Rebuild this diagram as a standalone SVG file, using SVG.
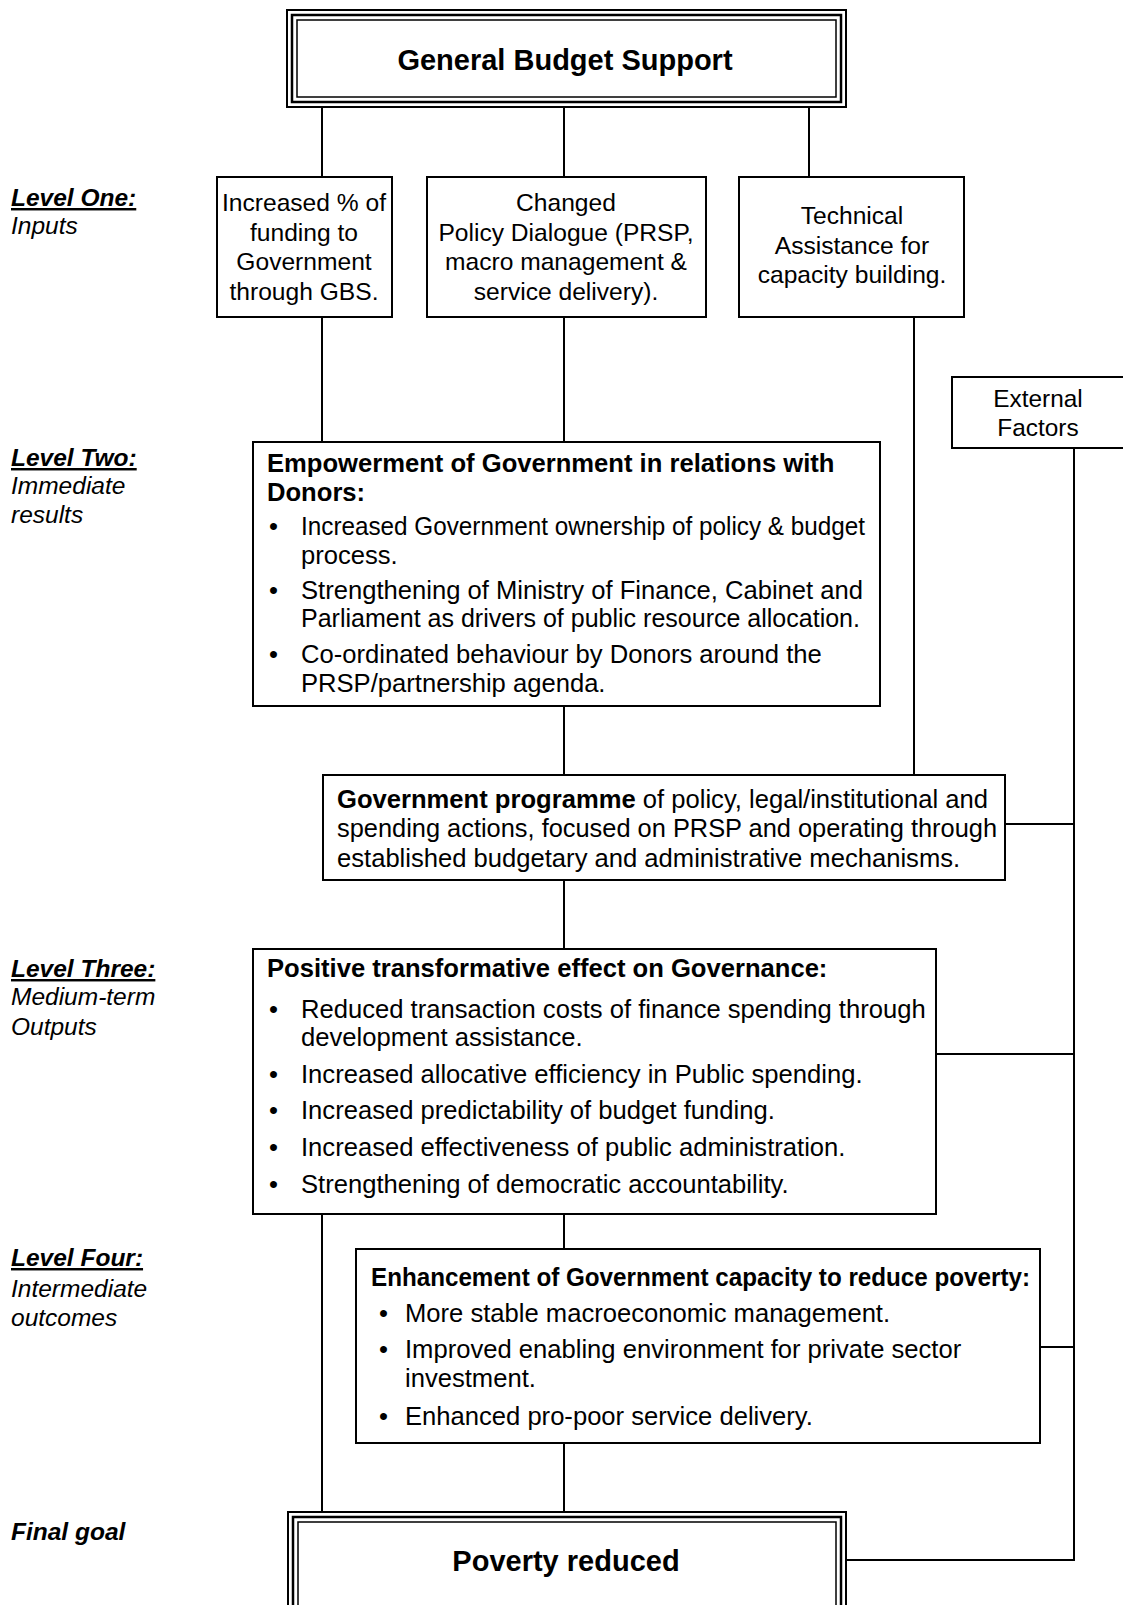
<svg xmlns="http://www.w3.org/2000/svg" width="1123" height="1605" viewBox="0 0 1123 1605">
<style>
text{font-family:"Liberation Sans",Arial,sans-serif;fill:#000}
.b{fill:#fff;stroke:#000;stroke-width:2}
.t{font-size:25.6px}
.s{font-size:24.6px}
.c{text-anchor:middle}
.bd{font-weight:bold}
.lvl{font-size:24.5px;font-style:italic}
.ul{text-decoration:underline;font-weight:bold}
.con line{stroke:#000;stroke-width:2}
</style>
<rect width="1123" height="1605" fill="#fff"/>
<g class="con">
<line x1="322" y1="107" x2="322" y2="177"/>
<line x1="564" y1="107" x2="564" y2="177"/>
<line x1="809" y1="107" x2="809" y2="177"/>
<line x1="322" y1="317" x2="322" y2="442"/>
<line x1="564" y1="317" x2="564" y2="442"/>
<line x1="914" y1="317" x2="914" y2="775"/>
<line x1="564" y1="706" x2="564" y2="775"/>
<line x1="564" y1="880" x2="564" y2="949"/>
<line x1="322" y1="1214" x2="322" y2="1512"/>
<line x1="564" y1="1214" x2="564" y2="1249"/>
<line x1="564" y1="1443" x2="564" y2="1512"/>
<line x1="1074" y1="448" x2="1074" y2="1561"/>
<line x1="1005" y1="824" x2="1075" y2="824"/>
<line x1="936" y1="1054" x2="1075" y2="1054"/>
<line x1="1040" y1="1347" x2="1075" y2="1347"/>
<line x1="846" y1="1560" x2="1075" y2="1560"/>
</g>
<g id="levels">
<text class="lvl ul" x="11" y="206">Level One:</text>
<text class="lvl" x="11" y="234">Inputs</text>
<text class="lvl ul" x="11" y="466">Level Two:</text>
<text class="lvl" x="11" y="494">Immediate</text>
<text class="lvl" x="11" y="523">results</text>
<text class="lvl ul" x="11" y="977">Level Three:</text>
<text class="lvl" x="11" y="1005">Medium-term</text>
<text class="lvl" x="11" y="1035">Outputs</text>
<text class="lvl ul" x="11" y="1266">Level Four:</text>
<text class="lvl" x="11" y="1297">Intermediate</text>
<text class="lvl" x="11" y="1326">outcomes</text>
<text class="lvl bd" x="11" y="1540">Final goal</text>
</g>
<g id="gbs">
<rect class="b" x="287" y="10" width="559" height="97"/>
<rect x="292" y="15" width="549" height="87" fill="none" stroke="#000" stroke-width="2.5"/>
<rect x="297" y="20" width="539" height="77" fill="none" stroke="#000" stroke-width="1.5"/>
<text class="c bd" x="565" y="70" font-size="29">General Budget Support</text>
</g>
<g id="input1">
<rect class="b" x="217" y="177" width="175" height="140"/>
<text class="s c" x="304" y="211">Increased % of</text>
<text class="s c" x="304" y="241">funding to</text>
<text class="s c" x="304" y="270">Government</text>
<text class="s c" x="304" y="300">through GBS.</text>
</g>
<g id="input2">
<rect class="b" x="427" y="177" width="279" height="140"/>
<text class="s c" x="566" y="211">Changed</text>
<text class="s c" x="566" y="241">Policy Dialogue (PRSP,</text>
<text class="s c" x="566" y="270">macro management &amp;</text>
<text class="s c" x="566" y="300">service delivery).</text>
</g>
<g id="input3">
<rect class="b" x="739" y="177" width="225" height="140"/>
<text class="s c" x="852" y="224">Technical</text>
<text class="s c" x="852" y="254">Assistance for</text>
<text class="s c" x="852" y="283">capacity building.</text>
</g>
<g id="external">
<rect class="b" x="952" y="377" width="180" height="71"/>
<text class="c" font-size="24.4" x="1038" y="407">External</text>
<text class="c" font-size="24.4" x="1038" y="436">Factors</text>
</g>
<g id="level2">
<rect class="b" x="253" y="442" width="627" height="264"/>
<text class="t bd" x="267" y="472">Empowerment of Government in relations with</text>
<text class="t bd" x="267" y="501">Donors:</text>
<text class="t" x="269" y="535">•</text>
<text class="t" x="301" y="535" textLength="564" lengthAdjust="spacingAndGlyphs">Increased Government ownership of policy &amp; budget</text>
<text class="t" x="301" y="564">process.</text>
<text class="t" x="269" y="599">•</text>
<text class="t" x="301" y="599">Strengthening of Ministry of Finance, Cabinet and</text>
<text class="t" x="301" y="627" textLength="559" lengthAdjust="spacingAndGlyphs">Parliament as drivers of public resource allocation.</text>
<text class="t" x="269" y="663">•</text>
<text class="t" x="301" y="663">Co-ordinated behaviour by Donors around the</text>
<text class="t" x="301" y="692">PRSP/partnership agenda.</text>
</g>
<g id="programme">
<rect class="b" x="323" y="775" width="682" height="105"/>
<text class="t" x="337" y="808"><tspan font-weight="bold">Government programme</tspan> of policy, legal/institutional and</text>
<text class="t" x="337" y="837" textLength="660" lengthAdjust="spacingAndGlyphs">spending actions, focused on PRSP and operating through</text>
<text class="t" x="337" y="867">established budgetary and administrative mechanisms.</text>
</g>
<g id="level3">
<rect class="b" x="253" y="949" width="683" height="265"/>
<text class="t bd" x="267" y="977">Positive transformative effect on Governance:</text>
<text class="t" x="269" y="1018">•</text>
<text class="t" x="301" y="1018">Reduced transaction costs of finance spending through</text>
<text class="t" x="301" y="1046">development assistance.</text>
<text class="t" x="269" y="1083">•</text>
<text class="t" x="301" y="1083">Increased allocative efficiency in Public spending.</text>
<text class="t" x="269" y="1119">•</text>
<text class="t" x="301" y="1119">Increased predictability of budget funding.</text>
<text class="t" x="269" y="1156">•</text>
<text class="t" x="301" y="1156">Increased effectiveness of public administration.</text>
<text class="t" x="269" y="1193">•</text>
<text class="t" x="301" y="1193">Strengthening of democratic accountability.</text>
</g>
<g id="level4">
<rect class="b" x="356" y="1249" width="684" height="194"/>
<text class="t bd" x="371" y="1286" textLength="659" lengthAdjust="spacingAndGlyphs">Enhancement of Government capacity to reduce poverty:</text>
<text class="t" x="379" y="1322">•</text>
<text class="t" x="405" y="1322">More stable macroeconomic management.</text>
<text class="t" x="379" y="1358">•</text>
<text class="t" x="405" y="1358">Improved enabling environment for private sector</text>
<text class="t" x="405" y="1387">investment.</text>
<text class="t" x="379" y="1425">•</text>
<text class="t" x="405" y="1425">Enhanced pro-poor service delivery.</text>
</g>
<g id="goal">
<rect class="b" x="288" y="1512" width="558" height="110"/>
<rect x="293" y="1517" width="548" height="100" fill="none" stroke="#000" stroke-width="2.5"/>
<rect x="298" y="1522" width="538" height="90" fill="none" stroke="#000" stroke-width="1.5"/>
<text class="c bd" x="566" y="1571" font-size="29">Poverty reduced</text>
</g>
</svg>
